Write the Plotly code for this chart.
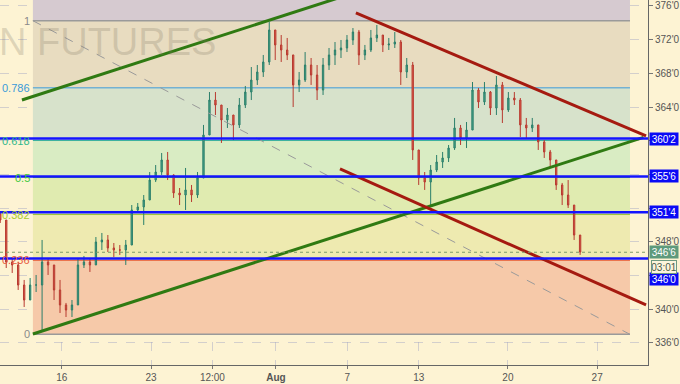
import plotly.graph_objects as go

# ---------------- data ----------------
# x axis = trading-session index (0 = Jul 16 2018)
tick_pos = [0, 5, 8.44, 12, 16, 20, 25, 30]
tick_text = ["16", "23", "12:00", "<b>Aug</b>", "7", "13", "20", "27"]

price_ticks = [336, 340, 344, 348, 352, 356, 360, 364, 368, 372, 376]
price_tick_text = ["336'0", "340'0", "", "348'0", "", "", "", "364'0", "368'0", "372'0", "376'0"]

candle_t0 = -3.45
candle_dt = 0.335
first_open = 351.3

high = [351.41, 350.58, 346.07, 345.59, 343.46, 343.69, 344.05, 348.21, 346.07, 345.24,
        343.46, 340.73, 341.08, 346.07, 346.31, 346.07, 348.56, 349.04, 348.80, 347.85,
        347.61, 348.21, 352.36, 352.60, 353.55, 356.28, 357.11, 358.54, 358.66, 356.00,
        354.38, 356.76, 354.74, 356.28, 361.87, 365.78, 365.78, 364.24, 363.88, 363.05,
        365.07, 366.50, 368.75, 368.99, 370.18, 374.10, 373.15, 372.55, 372.20, 370.20,
        368.16, 370.53, 369.82, 368.99, 369.82, 371.01, 371.72, 371.96, 372.55, 373.38,
        373.15, 371.37, 373.15, 373.74, 372.55, 372.20, 372.91, 371.96, 369.82, 369.35,
        358.90, 356.28, 357.11, 358.30, 358.66, 359.49, 362.70, 361.87, 362.22, 366.97,
        366.26, 366.97, 365.90, 367.68, 366.97, 365.78, 365.78, 365.07, 362.70, 362.70,
        361.87, 360.08, 358.90, 357.71, 354.98, 355.33, 352.36, 348.80]
low = [350.23, 344.88, 344.29, 342.27, 340.25, 341.08, 342.03, 337.52, 344.05, 341.08,
       339.54, 339.06, 339.06, 340.49, 344.88, 344.41, 345.24, 347.02, 346.78, 346.19,
       346.43, 345.24, 347.61, 351.53, 349.99, 352.96, 355.09, 355.93, 355.33, 353.20,
       352.36, 351.77, 352.72, 353.20, 355.57, 360.68, 363.05, 359.73, 361.51, 360.08,
       361.51, 363.88, 364.83, 366.62, 367.57, 368.99, 369.58, 369.35, 369.58, 364.00,
       365.78, 366.97, 366.62, 364.83, 365.43, 368.40, 368.99, 369.82, 370.53, 371.37,
       368.99, 369.58, 370.53, 371.72, 370.53, 370.77, 371.01, 366.62, 367.45, 357.71,
       354.74, 354.15, 352.13, 356.28, 356.76, 357.47, 358.90, 359.49, 359.13, 361.27,
       363.88, 364.24, 363.05, 363.05, 362.10, 363.41, 364.24, 360.44, 360.32, 361.03,
       358.90, 357.95, 356.76, 354.15, 352.36, 352.01, 348.21, 346.43]
close = [350.58, 345.59, 345.24, 342.86, 341.08, 342.86, 342.86, 345.59, 345.24, 342.27,
         340.49, 339.89, 340.49, 345.24, 345.59, 345.24, 347.97, 348.21, 347.26, 347.02,
         347.02, 347.61, 351.77, 352.13, 352.96, 355.33, 356.28, 357.71, 355.93, 353.79,
         353.55, 354.15, 353.55, 355.57, 360.68, 364.83, 364.24, 362.46, 363.05, 361.87,
         364.24, 365.78, 367.21, 368.16, 369.35, 373.15, 371.37, 370.77, 370.18, 366.62,
         367.21, 368.99, 367.80, 366.02, 368.99, 370.18, 370.77, 371.01, 371.96, 372.91,
         370.18, 370.77, 372.20, 372.55, 371.37, 371.48, 371.72, 368.16, 368.99, 358.90,
         355.57, 355.09, 356.52, 357.47, 357.95, 359.13, 361.51, 360.32, 361.27, 366.02,
         364.60, 365.78, 363.88, 366.62, 363.65, 365.07, 364.83, 361.87, 361.51, 361.87,
         359.85, 358.66, 357.71, 354.74, 353.55, 352.36, 348.80, 346.78]

fib_high, fib_low = 374.25, 337.0
fib_t0, fib_t1 = -1.62, 31.84
fib_levels = [0, 0.236, 0.382, 0.5, 0.618, 0.786, 1]
fib_names = ["0", "0.236", "0.382", "0.5", "0.618", "0.786", "1"]
fib_line_colors = ["#9a9a9a", "#e8603a", "#9cc43a", "#48c040", "#3ab0a0", "#3a9ad9", "#9a9a9a"]
fib_label_colors = ["#8a8a8a", "#e85a40", "#a8cc30", "#3cc83c", "#30b88a", "#3a9ad9", "#8a8a8a"]
fib_zone_colors = ["#f6c9a9", "#eeeab0", "#e0ebb0", "#d9ecc3", "#d7e2cb", "#e8dcc0", "#d6cad0"]

key_levels = [360.25, 355.75, 351.5, 346.0]
key_labels = ["360'2", "355'6", "351'4", "346'0"]
last_price, last_label, countdown = 346.75, "346'6", "03:01"

green_upper = ([-2.235, 16.5], [364.83, 377.64])
green_lower = ([-1.62, 32.6], [337.04, 360.4])
red_upper = ([16.48, 32.74], [375.17, 360.56])
red_lower = ([15.59, 32.74], [356.64, 340.49])

x_range = [-3.464, 32.85]
y_range = [333.36, 376.71]

# ---------------- figure ----------------
n = len(close)
t = [candle_t0 + i * candle_dt for i in range(n)]
opens = [first_open] + close[:-1]

fig = go.Figure()

fig.add_trace(go.Candlestick(
    x=t, open=opens, high=high, low=low, close=close,
    increasing=dict(line=dict(color="#2b7f6a", width=1), fillcolor="#4aa88c"),
    decreasing=dict(line=dict(color="#b83a30", width=1), fillcolor="#e4604e"),
    whiskerwidth=0, hoverinfo="skip", showlegend=False))

# diagonal fib line
fig.add_trace(go.Scatter(x=[fib_t0, fib_t1], y=[fib_high, fib_low], mode="lines",
                         line=dict(color="#9a9a9a", width=1, dash="dash"),
                         hoverinfo="skip", showlegend=False))

for (xs, ys), col in [(green_upper, "#2f7a12"), (green_lower, "#2f7a12"),
                      (red_upper, "#a51a10"), (red_lower, "#a51a10")]:
    fig.add_trace(go.Scatter(x=xs, y=ys, mode="lines", line=dict(color=col, width=3),
                             hoverinfo="skip", showlegend=False))

shapes = []
fib_prices = [fib_low + lv * (fib_high - fib_low) for lv in fib_levels]
bounds = fib_prices + [y_range[1]]
for i, col in enumerate(fib_zone_colors):
    shapes.append(dict(type="rect", xref="x", yref="y", x0=fib_t0, x1=fib_t1,
                       y0=bounds[i], y1=bounds[i + 1], fillcolor=col,
                       line=dict(width=0), layer="between"))
for p, col in zip(fib_prices, fib_line_colors):
    w = 1.5 if col == "#9a9a9a" else 1
    shapes.append(dict(type="line", xref="x", yref="y", x0=fib_t0, x1=fib_t1,
                       y0=p, y1=p, line=dict(color=col, width=w), layer="between"))

# current price dotted line
shapes.append(dict(type="line", xref="paper", yref="y", x0=0, x1=1, y0=last_price, y1=last_price,
                   line=dict(color="#7d9a6a", width=1, dash="dot"), layer="above"))
for p in key_levels:
    shapes.append(dict(type="line", xref="paper", yref="y", x0=0, x1=1, y0=p, y1=p,
                       line=dict(color="#1414ff", width=2.5), layer="above"))

annotations = []
for p, name, col in zip(fib_prices, fib_names, fib_label_colors):
    annotations.append(dict(xref="x", yref="y", x=fib_t0, y=p, text=name, showarrow=False,
                            xanchor="right", yanchor="middle", xshift=-1,
                            font=dict(size=11, color=col, family="Liberation Sans, Arial")))

lab_font = dict(size=10, color="white", family="Liberation Sans, Arial")
for p, name in zip(key_levels, key_labels):
    ys = -20 if name == "346'0" else 0
    annotations.append(dict(xref="paper", yref="y", x=1, y=p, text=name, showarrow=False,
                            xanchor="left", yanchor="middle", xshift=1, yshift=ys,
                            bgcolor="#0a0af5", width=28, height=12, borderpad=0,
                            font=lab_font))
annotations.append(dict(xref="paper", yref="y", x=1, y=last_price, text=last_label,
                        showarrow=False, xanchor="left", yanchor="middle", xshift=1,
                        bgcolor="#5e9a7c", width=28, height=12, borderpad=0, font=lab_font))
annotations.append(dict(xref="paper", yref="y", x=1, y=last_price, text=countdown,
                        showarrow=False, xanchor="left", yanchor="middle", xshift=3, yshift=-15,
                        bgcolor="#fdf5dc", bordercolor="#6f9a80", borderwidth=1,
                        width=24, height=12, borderpad=0,
                        font=dict(size=10, color="#4a5a4a", family="Liberation Sans, Arial")))

annotations.append(dict(xref="paper", yref="y", x=0, y=371.7, text="N FUTURES", showarrow=False,
                        xanchor="left", yanchor="middle", xshift=-3,
                        font=dict(size=38, color="rgba(130,120,100,0.25)",
                                  family="Liberation Sans, Arial")))

fig.update_layout(
    width=680, height=384,
    margin=dict(l=0, r=30, t=0, b=19),
    paper_bgcolor="#fdf3d3", plot_bgcolor="#fdf3d3",
    boxgap=0.68,
    shapes=shapes, annotations=annotations, showlegend=False,
    xaxis=dict(range=x_range, tickvals=tick_pos, ticktext=tick_text,
               showgrid=True, gridcolor="rgba(160,165,195,0.45)", griddash="dash", gridwidth=1,
               ticks="outside", ticklen=3, tickcolor="#777", showline=True, linecolor="#666",
               zeroline=False, rangeslider=dict(visible=False),
               tickfont=dict(size=10, color="#555", family="Liberation Sans, Arial")),
    yaxis=dict(range=y_range, side="right", tickvals=price_ticks, ticktext=price_tick_text,
               showgrid=True, gridcolor="rgba(160,165,195,0.45)", griddash="dash", gridwidth=1,
               ticks="outside", ticklen=4, tickcolor="#777", showline=True, linecolor="#666",
               zeroline=False,
               tickfont=dict(size=10, color="#555", family="Liberation Sans, Arial")),
)

fig.write_html("out.html", config={"displayModeBar": False},
               post_script="document.body.style.margin='0';document.body.style.padding='0';")
